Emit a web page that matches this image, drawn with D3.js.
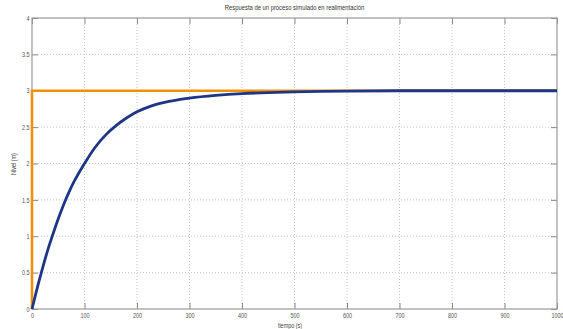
<!DOCTYPE html>
<html>
<head>
<meta charset="utf-8">
<script src="https://cdn.jsdelivr.net/npm/d3@7"></script>
<style>
  body { margin: 0; background: #fff; }
  svg { display: block; }
  text { font-family: "Liberation Sans", Arial, sans-serif; }
</style>
</head>
<body>
<svg id="chart" width="563" height="329"></svg>
<script>
// data
const tiempo = [0, 10, 20, 30, 40, 50, 60, 70, 80, 90, 100, 120, 140, 160, 180, 200, 225, 250, 275, 300, 350, 400, 450, 500, 550, 600, 700, 800, 900, 1000];
const nivel  = [0, 0.29, 0.56, 0.81, 1.03, 1.24, 1.43, 1.6, 1.75, 1.88, 2.0, 2.22, 2.39, 2.52, 2.625, 2.71, 2.785, 2.837, 2.872, 2.898, 2.935, 2.96, 2.975, 2.985, 2.992, 2.996, 3.0, 3.0, 3.0, 3.0];
const refT = [0, 0, 1000];
const refV = [0, 3, 3];
const xTicks = [0, 100, 200, 300, 400, 500, 600, 700, 800, 900, 1000];
const yTicks = [0, 0.5, 1, 1.5, 2, 2.5, 3, 3.5, 4];
const yTickLabels = ["0", "0.5", "1", "1.5", "2", "2.5", "3", "3.5", "4"];

const svg = d3.select("#chart");
const pLeft = 32, pRight = 557, pTop = 18, pBottom = 309;
const squeeze = 0.78;

const x = d3.scaleLinear().domain([0, 1000]).range([pLeft, pRight]);
const y = d3.scaleLinear().domain([0, 4]).range([pBottom, pTop]);

// grid
const grid = svg.append("g");
grid.selectAll("line.gx")
    .data(xTicks.slice(1, -1))
    .enter().append("line")
    .attr("x1", d => x(d)).attr("x2", d => x(d))
    .attr("y1", pTop).attr("y2", pBottom)
    .attr("stroke", "#c4c4c4")
    .attr("stroke-width", 1)
    .attr("stroke-dasharray", "1,2");
grid.selectAll("line.gy")
    .data(yTicks.slice(1, -1))
    .enter().append("line")
    .attr("x1", pLeft).attr("x2", pRight)
    .attr("y1", d => y(d)).attr("y2", d => y(d))
    .attr("stroke", "#c4c4c4")
    .attr("stroke-width", 1)
    .attr("stroke-dasharray", "1,2");

// axes
svg.append("g")
    .attr("class", "xb")
    .attr("transform", `translate(0,${pBottom})`)
    .call(d3.axisBottom(x).tickValues(xTicks).tickSize(-6).tickPadding(4).tickFormat(d3.format("d")))
    .call(g => g.select(".domain").remove());
svg.append("g")
    .attr("transform", `translate(0,${pTop})`)
    .call(d3.axisTop(x).tickValues(xTicks).tickSize(-6).tickFormat(""))
    .call(g => g.select(".domain").remove());
svg.append("g")
    .attr("class", "yl")
    .attr("transform", `translate(${pLeft},0)`)
    .call(d3.axisLeft(y).tickValues(yTicks).tickSize(-6).tickPadding(2).tickFormat((d, i) => yTickLabels[i]))
    .call(g => g.select(".domain").remove());
svg.append("g")
    .attr("transform", `translate(${pRight},0)`)
    .call(d3.axisRight(y).tickValues(yTicks).tickSize(-6).tickFormat(""))
    .call(g => g.select(".domain").remove());

svg.selectAll(".tick line").attr("stroke", "#8a8a8a");
svg.selectAll(".tick text")
    .attr("font-size", 7)
    .attr("fill", "#555");
svg.selectAll(".xb .tick text").attr("transform", `scale(${squeeze},1)`);
svg.selectAll(".yl .tick text")
    .attr("x", -2.5 / squeeze)
    .attr("transform", `scale(${squeeze},1)`);

svg.append("rect")
    .attr("x", pLeft).attr("y", pTop)
    .attr("width", pRight - pLeft).attr("height", pBottom - pTop)
    .attr("fill", "none")
    .attr("stroke", "#999")
    .attr("stroke-width", 1.2);

// lines
const line = d3.line().x(d => x(d[0])).y(d => y(d[1]));

svg.append("path")
    .datum(d3.zip(refT, refV))
    .attr("d", line)
    .attr("fill", "none")
    .attr("stroke", "#f0900a")
    .attr("stroke-width", 2.6);

svg.append("path")
    .datum(d3.zip(tiempo, nivel))
    .attr("d", line.curve(d3.curveMonotoneX))
    .attr("fill", "none")
    .attr("stroke", "#1f3585")
    .attr("stroke-width", 2.8);

// labels
svg.append("text")
    .attr("transform", `translate(${(pLeft + pRight) / 2},10) scale(${squeeze},1)`)
    .attr("text-anchor", "middle")
    .attr("font-size", 7.5)
    .attr("fill", "#333")
    .text("Respuesta de un proceso simulado en realimentación");

svg.append("text")
    .attr("transform", `translate(290,328) scale(${squeeze},1)`)
    .attr("text-anchor", "middle")
    .attr("font-size", 7)
    .attr("fill", "#444")
    .text("tiempo (s)");

svg.append("text")
    .attr("transform", `translate(16,164) rotate(-90) scale(${squeeze},1)`)
    .attr("text-anchor", "middle")
    .attr("font-size", 7)
    .attr("fill", "#444")
    .text("Nivel (m)");
</script>
</body>
</html>
